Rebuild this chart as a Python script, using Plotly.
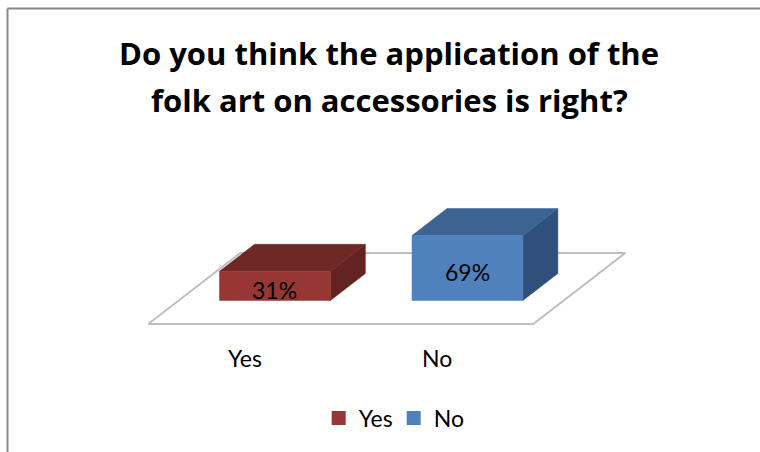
import plotly.graph_objects as go

# Survey answers
categories = ["Yes", "No"]
shares = [31, 69]  # percent
bar_front = ["#963735", "#4F81BD"]
bar_top = ["#6E2826", "#3D6393"]
bar_side = ["#632321", "#2F507A"]

# oblique projection of the depth axis (shift for full floor depth)
DX, DV = 0.478, 75.4
D_FRONT, D_BACK = 0.331, 0.711   # bar position along the depth
HALF_W = 0.288
FLOOR_L, FLOOR_R = -0.5, 1.5
LABEL_V = -36                     # category labels sit below the floor front

W, H = 760, 452
PX_X, X0 = 192.5, 244.5          # px per category, px of category 0
PX_V, Y0 = 0.942, 324.0          # px per percent, px of floor front


def proj(c, v, d):
    return c + d * DX, v + d * DV


def face(pts):
    xs, ys = zip(*[proj(*p) for p in pts])
    return list(xs) + [xs[0]], list(ys) + [ys[0]]


fig = go.Figure()

# floor plane
fx, fy = face([(FLOOR_L, 0, 0), (FLOOR_R, 0, 0), (FLOOR_R, 0, 1), (FLOOR_L, 0, 1)])
fig.add_trace(go.Scatter(x=fx, y=fy, mode="lines", fill="toself", fillcolor="white",
                         line=dict(color="#BFBFBF", width=2), showlegend=False,
                         hoverinfo="skip"))

for i, (cat, val) in enumerate(zip(categories, shares)):
    c = i
    l, r = c - HALF_W, c + HALF_W
    faces = [
        ([(r, 0, D_FRONT), (r, 0, D_BACK), (r, val, D_BACK), (r, val, D_FRONT)], bar_side[i]),
        ([(l, val, D_FRONT), (r, val, D_FRONT), (r, val, D_BACK), (l, val, D_BACK)], bar_top[i]),
        ([(l, 0, D_FRONT), (r, 0, D_FRONT), (r, val, D_FRONT), (l, val, D_FRONT)], bar_front[i]),
    ]
    for pts, col in faces:
        x, y = face(pts)
        fig.add_trace(go.Scatter(x=x, y=y, mode="lines", fill="toself", fillcolor=col,
                                 line=dict(color=col, width=0.5), showlegend=False,
                                 hoverinfo="skip"))
    lx, ly = proj(c, val / 2, D_FRONT)
    fig.add_annotation(x=lx, y=ly, text=f"{val}%", showarrow=False, yshift=-4,
                       font=dict(family="Lato", size=23, color="black"))
    # category label in front of the floor
    fig.add_annotation(x=c, y=LABEL_V, text=cat, showarrow=False,
                       font=dict(family="Lato", size=23, color="black"))

# legend entries
for i, cat in enumerate(categories):
    fig.add_trace(go.Scatter(x=[None], y=[None], mode="markers", name=cat,
                             marker=dict(symbol="square", size=14, color=bar_front[i])))

title_lines = ["Do you think the application of the", "folk art on accessories is right?"]
for line, yp in zip(title_lines, [0.883, 0.779]):
    fig.add_annotation(x=0.512, y=yp, xref="paper", yref="paper", text=line,
                       showarrow=False, xanchor="center", yanchor="middle",
                       font=dict(family="Open Sans", size=31, color="black", weight="bold"))

# chart frame
fig.add_shape(type="line", xref="paper", yref="paper", x0=7.5 / W, x1=7.5 / W,
              y0=0, y1=1 - 8.5 / H, line=dict(color="#898989", width=2))
fig.add_shape(type="line", xref="paper", yref="paper", x0=7.5 / W, x1=1,
              y0=1 - 8.5 / H, y1=1 - 8.5 / H, line=dict(color="#898989", width=2))

fig.update_layout(
    width=W, height=H, margin=dict(l=0, r=0, t=0, b=0),
    paper_bgcolor="white", plot_bgcolor="white",
    xaxis=dict(range=[-X0 / PX_X, (W - X0) / PX_X], visible=False, fixedrange=True),
    yaxis=dict(range=[-(H - Y0) / PX_V, Y0 / PX_V], visible=False, fixedrange=True),
    showlegend=True,
    legend=dict(orientation="h", x=0.518, y=0.075, xanchor="center", yanchor="middle",
                font=dict(family="Lato", size=23, color="black"),
                bgcolor="rgba(0,0,0,0)", itemwidth=30, tracegroupgap=0,
                entrywidth=30, entrywidthmode="pixels"),
)

fig.write_html("out.html")
